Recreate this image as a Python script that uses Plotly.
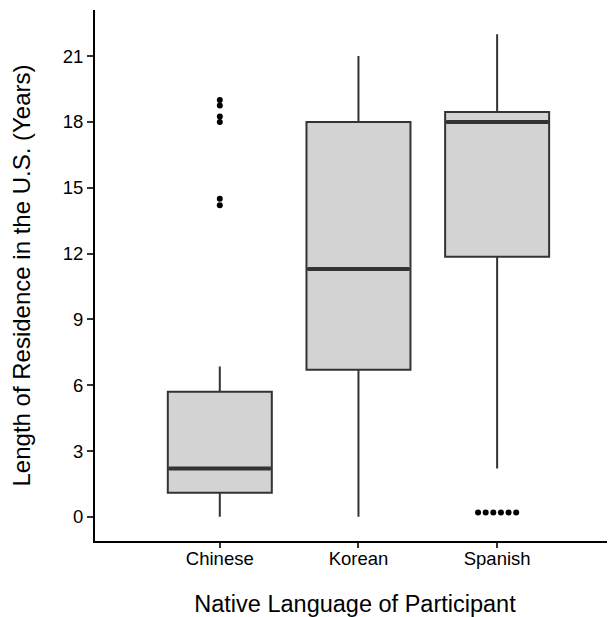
import plotly.graph_objects as go

categories = ["Chinese", "Korean", "Spanish"]
q1 = [1.1, 6.7, 11.85]
median = [2.2, 11.3, 18.0]
q3 = [5.7, 18.0, 18.45]
lower_whisker = [0.0, 0.0, 2.2]
upper_whisker = [6.85, 21.0, 22.0]
outliers = {
    "Chinese": [19.0, 18.75, 18.25, 18.0, 14.5, 14.2],
    "Korean": [],
    "Spanish": [0.2, 0.2, 0.2, 0.2, 0.2, 0.2],
}
y_ticks = [0, 3, 6, 9, 12, 15, 18, 21]

FONT = "Liberation Sans, Arial, sans-serif"
BOX_W = 0.75
pos = [1, 2, 3]

fig = go.Figure()
for i, c in enumerate(categories):
    fig.add_trace(go.Box(
        x=[pos[i]], q1=[q1[i]], median=[median[i]], q3=[q3[i]],
        lowerfence=[lower_whisker[i]], upperfence=[upper_whisker[i]],
        boxpoints=False, width=BOX_W, whiskerwidth=0,
        fillcolor="#D3D3D3", line=dict(color="#333333", width=2),
        showlegend=False, hoverinfo="skip",
    ))
    # thicker median line
    fig.add_trace(go.Scatter(
        x=[pos[i] - BOX_W / 2 + 0.008, pos[i] + BOX_W / 2 - 0.008],
        y=[median[i], median[i]], mode="lines",
        line=dict(color="#333333", width=4), showlegend=False, hoverinfo="skip",
    ))
    vals = outliers[c]
    if vals:
        # points with identical values are spread side by side
        counts = {}
        for v in vals:
            counts[v] = counts.get(v, 0) + 1
        seen = {}
        xs = []
        for v in vals:
            n = counts[v]
            k = seen.get(v, 0)
            seen[v] = k + 1
            xs.append(pos[i] + (k - (n - 1) / 2) * 0.055)
        fig.add_trace(go.Scatter(
            x=xs, y=vals, mode="markers",
            marker=dict(color="black", size=6), showlegend=False, hoverinfo="skip",
        ))

# page body has an 8px margin, so the figure is shifted by 8px in the window
fig.update_layout(
    width=607, height=609,
    margin=dict(l=87, r=0, t=2, b=76),
    plot_bgcolor="white", paper_bgcolor="white",
    font=dict(family=FONT, color="black"),
)
fig.update_xaxes(
    range=[0.1, 3.85], tickmode="array", tickvals=pos, ticktext=categories,
    showgrid=False, zeroline=False, showline=True, linecolor="black", linewidth=2,
    ticks="outside", ticklen=5, tickcolor="#333333", tickwidth=1.5,
    ticklabelstandoff=-5,
    tickfont=dict(size=18.5, color="black", family=FONT), automargin=False,
    title=dict(text="Native Language of Participant", font=dict(size=23.5, family=FONT), standoff=29),
)
fig.update_yaxes(
    range=[-1.1, 23.1], tickmode="array", tickvals=y_ticks,
    showgrid=False, zeroline=False, showline=True, linecolor="black", linewidth=2,
    ticks="outside", ticklen=6, tickcolor="#333333", tickwidth=1.5,
    tickfont=dict(size=18.5, color="black", family=FONT), automargin=False,
    title=dict(text="Length of Residence in the U.S. (Years)", font=dict(size=24, family=FONT), standoff=27),
)
fig.write_html("out.html")
